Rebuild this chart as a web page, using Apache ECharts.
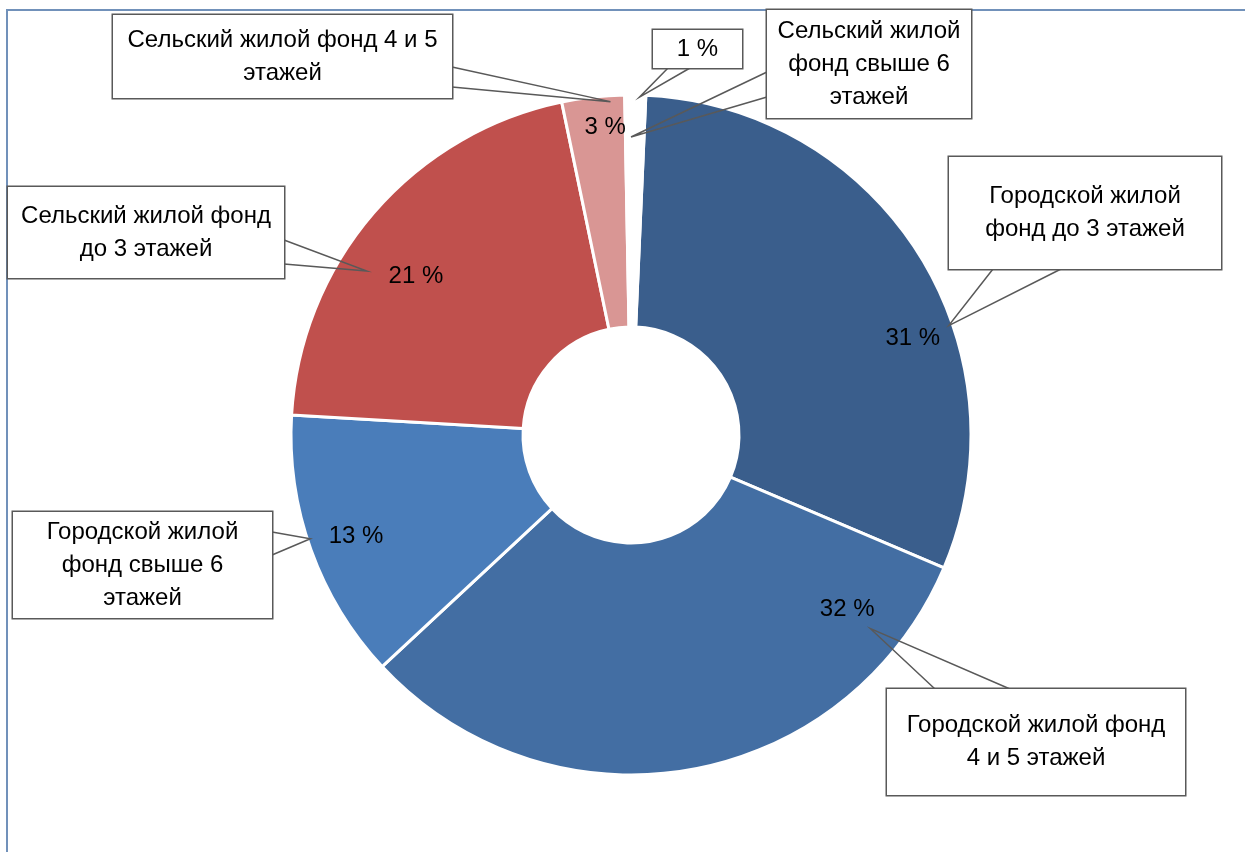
<!DOCTYPE html>
<html>
<head>
<meta charset="utf-8">
<script src="https://cdn.jsdelivr.net/npm/echarts@6/dist/echarts.min.js"></script>
<style>
  html, body { margin: 0; padding: 0; background: #ffffff; }
  #chart { width: 1245px; height: 852px; }
</style>
</head>
<body>
<div id="chart"></div>
<script>
// Структура жилого фонда, %
const categories = [
  'Городской жилой фонд до 3 этажей',
  'Городской жилой фонд 4 и 5 этажей',
  'Городской жилой фонд свыше 6 этажей',
  'Сельский жилой фонд до 3 этажей',
  'Сельский жилой фонд 4 и 5 этажей',
  'Сельский жилой фонд свыше 6 этажей'
];
const shares = [31, 32, 13, 21, 3, 1];

// Category names as wrapped in the callouts
const calloutText = [
  'Городской жилой\nфонд до 3 этажей',
  'Городской жилой фонд\n4 и 5 этажей',
  'Городской жилой\nфонд свыше 6\nэтажей',
  'Сельский жилой фонд\nдо 3 этажей',
  'Сельский жилой фонд 4 и 5\nэтажей',
  'Сельский жилой\nфонд свыше 6\nэтажей'
];

const sliceColors = ['#3A5E8C', '#436EA3', '#4A7DBA', '#C0504D', '#D99694', '#FFFFFF'];

// ---- layout (not data) ----
const FONT = '"Liberation Sans", Arial, sans-serif';
const FONT_SIZE = 24;
const LINE_H = 33;
const EDGE = '#595959';
const CENTER = [631, 435];
const RADIUS = [108, 340];
const START_ANGLE = 87.5;

// value labels: t = fraction along the slice's arc, r = distance from the centre
const valueLabelPos = [
  { t: 0.62, r: 298 },
  { t: 0.14, r: 278 },
  { t: 0.49, r: 293 },
  { t: 0.44, r: 267 },
  { t: 0.65, r: 309 },
  null
];
// the smallest slice shows its value in a boxed callout
const smallValueBox = { x: 653, y: 30, w: 89, h: 38, tip: { t: 0.7, r: 338 }, base: ['bottom', 15, 37] };

// name callouts: box rect, pointer tip inside the slice, pointer base on a box edge
const calloutBoxes = [
  { x: 949, y: 157, w: 272, h: 112, tip: { t: 0.62, r: 336 }, base: ['bottom', 44, 112] },
  { x: 887, y: 689, w: 298, h: 106, tip: { t: 0.14, r: 308 }, base: ['top', 48, 123] },
  { x: 13,  y: 512, w: 259, h: 106, tip: { t: 0.54, r: 337 }, base: ['right', 20, 43] },
  { x: 8,   y: 187, w: 276, h: 91,  tip: { t: 0.38, r: 311 }, base: ['right', 53, 77] },
  { x: 113, y: 15,  w: 339, h: 83,  tip: { t: 0.77, r: 334 }, base: ['right', 52, 72] },
  { x: 767, y: 10,  w: 204, h: 108, tip: { t: 0.30, r: 298 }, base: ['left', 62, 87] }
];

const chart = echarts.init(document.getElementById('chart'), null, { renderer: 'canvas' });

function sectorLayout(seriesIndex, dataIndex) {
  return chart.getModel().getSeriesByIndex(seriesIndex).getData().getItemLayout(dataIndex);
}
function pointAt(lay, pos) {
  const a = lay.startAngle + pos.t * (lay.endAngle - lay.startAngle);
  return [lay.cx + pos.r * Math.cos(a), lay.cy + pos.r * Math.sin(a)];
}
function basePoints(b) {
  const side = b.base[0], p1 = b.base[1], p2 = b.base[2];
  if (side === 'bottom') return [[b.x + p1, b.y + b.h], [b.x + p2, b.y + b.h]];
  if (side === 'top') return [[b.x + p1, b.y], [b.x + p2, b.y]];
  if (side === 'left') return [[b.x, b.y + p1], [b.x, b.y + p2]];
  return [[b.x + b.w, b.y + p1], [b.x + b.w, b.y + p2]];
}
function boxLayout(b, lay) {
  const tip = pointAt(lay, b.tip);
  const bp = basePoints(b);
  return {
    x: b.x + b.w / 2,
    y: b.y + b.h / 2,
    align: 'center',
    verticalAlign: 'middle',
    labelLinePoints: [bp[0], tip, bp[1]]
  };
}
function boxLabel(b, lines) {
  return {
    show: true,
    width: b.w,
    padding: [(b.h - lines * LINE_H) / 2, 0],
    backgroundColor: '#ffffff',
    borderColor: EDGE,
    borderWidth: 1.5,
    overflow: 'none'
  };
}

const textStyle = {
  fontFamily: FONT,
  fontSize: FONT_SIZE,
  lineHeight: LINE_H,
  color: '#000000'
};

// ring slices with their value labels (the smallest slice's value goes into a box)
const ringData = categories.map(function (name, i) {
  const item = { name: name, value: shares[i], itemStyle: { color: sliceColors[i] } };
  if (valueLabelPos[i] === null) item.label = { show: false };
  return item;
});

// transparent copies of the ring that carry the boxed callouts
const calloutData = categories.map(function (name, i) {
  const lines = calloutText[i].split('\n').length;
  return { name: name, value: shares[i], label: boxLabel(calloutBoxes[i], lines) };
});
const valueBoxData = categories.map(function (name, i) {
  const item = { name: name, value: shares[i] };
  item.label = valueLabelPos[i] === null ? boxLabel(smallValueBox, 1) : { show: false };
  item.labelLine = { show: valueLabelPos[i] === null };
  return item;
});

const ringCommon = {
  type: 'pie',
  center: CENTER,
  radius: RADIUS,
  startAngle: START_ANGLE,
  clockwise: true,
  avoidLabelOverlap: false,
  animation: false,
  emphasis: { disabled: true }
};
const overlayCommon = Object.assign({}, ringCommon, {
  z: 5,
  silent: true,
  itemStyle: { color: 'rgba(0,0,0,0)', borderWidth: 0 },
  labelLine: { show: true, smooth: false, lineStyle: { color: EDGE, width: 1.5 } }
});

chart.setOption({
  backgroundColor: '#ffffff',
  animation: false,
  tooltip: { show: false },
  graphic: [{
    type: 'rect',
    silent: true,
    z: -10,
    shape: { x: 7, y: 10, width: 1300, height: 900 },
    style: { fill: 'none', stroke: '#7191BA', lineWidth: 2 }
  }],
  series: [
    Object.assign({}, ringCommon, {
      name: 'ring',
      itemStyle: { borderColor: '#ffffff', borderWidth: 3 },
      label: Object.assign({ show: true, position: 'outside', formatter: '{c} %' }, textStyle),
      labelLine: { show: false },
      labelLayout: function (p) {
        const pos = valueLabelPos[p.dataIndex];
        if (pos === null) return {};
        const pt = pointAt(sectorLayout(0, p.dataIndex), pos);
        return { x: pt[0], y: pt[1], align: 'center', verticalAlign: 'middle' };
      },
      data: ringData
    }),
    Object.assign({}, overlayCommon, {
      name: 'callouts',
      label: Object.assign({
        show: true,
        position: 'outside',
        formatter: function (p) { return calloutText[p.dataIndex]; }
      }, textStyle),
      labelLayout: function (p) {
        return boxLayout(calloutBoxes[p.dataIndex], sectorLayout(1, p.dataIndex));
      },
      data: calloutData
    }),
    Object.assign({}, overlayCommon, {
      name: 'value box',
      label: Object.assign({ position: 'outside', formatter: '{c} %' }, textStyle),
      labelLayout: function (p) {
        if (valueLabelPos[p.dataIndex] !== null) return {};
        return boxLayout(smallValueBox, sectorLayout(2, p.dataIndex));
      },
      data: valueBoxData
    })
  ]
});
</script>
</body>
</html>
